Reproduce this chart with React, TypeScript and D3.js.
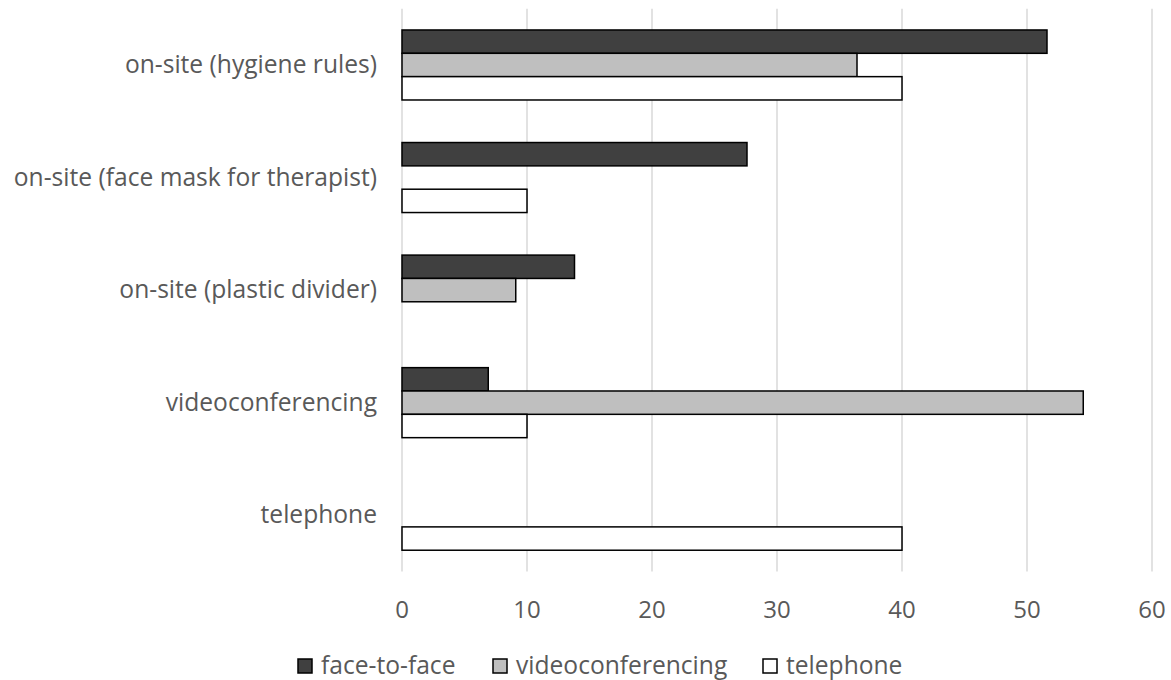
import React from "react";
import * as d3 from "d3";

const categories = [
  "on-site (hygiene rules)",
  "on-site (face mask for therapist)",
  "on-site (plastic divider)",
  "videoconferencing",
  "telephone",
];
const seriesNames = ["face-to-face", "videoconferencing", "telephone"];
const faceToFace = [51.6, 27.6, 13.8, 6.9, 0];
const videoconf = [36.4, 0, 9.1, 54.5, 0];
const telephone = [40, 10, 0, 10, 40];
const xTicks = [0, 10, 20, 30, 40, 50, 60];
const colors = ["#404040", "#bfbfbf", "#ffffff"];

const W = 1171;
const H = 680;
const left = 402;
const right = 1152;
const top = 8.7;
const bottom = 571.5;
const font = "'Open Sans', sans-serif";
const textColor = "#595959";

export default function App() {
  const x = d3.scaleLinear().domain([0, 60]).range([left, right]);
  const y = d3
    .scaleBand<string>()
    .domain(categories)
    .range([top, bottom])
    .paddingInner(0.378)
    .paddingOuter(0.189);
  const inner = d3
    .scaleBand<string>()
    .domain(seriesNames)
    .range([0, y.bandwidth()]);
  const values = [faceToFace, videoconf, telephone];

  return (
    <svg
      width={W}
      height={H}
      style={{ position: "absolute", left: 0, top: 0, background: "#fff" }}
    >
      {xTicks.map((t) => (
        <line
          key={t}
          x1={x(t)}
          x2={x(t)}
          y1={top}
          y2={bottom}
          stroke="#d9d9d9"
          strokeWidth={1.5}
        />
      ))}
      {categories.map((c, ci) =>
        seriesNames.map((s, si) => {
          const v = values[si][ci];
          if (!v) return null;
          return (
            <rect
              key={c + s}
              x={x(0)}
              y={(y(c) as number) + (inner(s) as number)}
              width={x(v) - x(0)}
              height={inner.bandwidth()}
              fill={colors[si]}
              stroke="#000"
              strokeWidth={1.5}
            />
          );
        })
      )}
      {categories.map((c) => (
        <text
          key={c}
          x={377}
          y={(y(c) as number) + y.bandwidth() / 2 - 1.5}
          textAnchor="end"
          dominantBaseline="central"
          fontFamily={font}
          fontSize={24.6}
          fill={textColor}
        >
          {c}
        </text>
      ))}
      {xTicks.map((t) => (
        <text
          key={t}
          x={x(t)}
          y={617.5}
          textAnchor="middle"
          fontFamily={font}
          fontSize={24}
          fill={textColor}
        >
          {t}
        </text>
      ))}
      {seriesNames.map((s, si) => {
        const lx = [298, 493, 763][si];
        return (
          <g key={s}>
            <rect
              x={lx}
              y={659}
              width={14}
              height={14}
              fill={colors[si]}
              stroke="#000"
              strokeWidth={1.5}
            />
            <text
              x={lx + 23}
              y={673.5}
              fontFamily={font}
              fontSize={24.6}
              fill={textColor}
            >
              {s}
            </text>
          </g>
        );
      })}
    </svg>
  );
}
